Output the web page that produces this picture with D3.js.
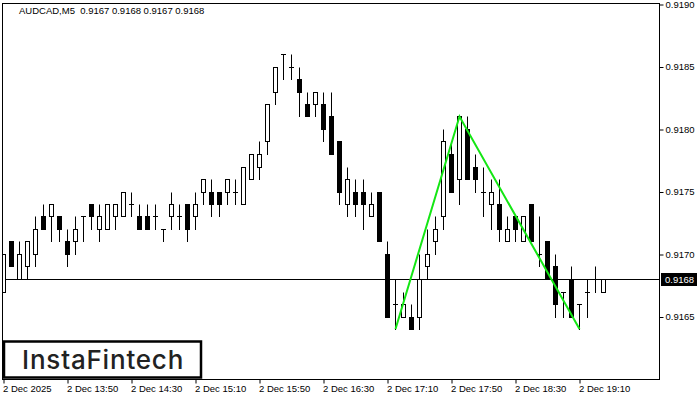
<!DOCTYPE html>
<html>
<head>
<meta charset="utf-8">
<script src="https://cdn.jsdelivr.net/npm/d3@7"></script>
<style>
  body { margin: 0; background: #fff; }
  text { font-family: "Liberation Sans", Arial, sans-serif; }
</style>
</head>
<body>
<div id="chart"></div>
<script>
// AUDCAD M5 candles (0.91xx)
const opens  = [0.9167,0.9171,0.9168,0.9169,0.9170,0.9173,0.9173,0.9173,0.9171,0.9171,0.9173,0.9174,0.9172,0.9172,0.9173,0.9173,0.9174,0.9173,0.9173,0.9173,
                0.9172,0.9173,0.9173,0.9174,0.9173,0.9175,0.9175,0.9175,0.9175,0.9175,0.9174,0.9176,0.9177,0.9179,0.9183,0.9186,0.9185,0.9184,0.9182,0.9182,
                0.9182,0.9181,0.9179,0.9174,0.9175,0.9175,0.9173,0.9175,0.9170,0.9166,0.9165,0.9165,0.9165,0.9169,0.9171,0.9173,0.9178,0.9176,0.9180,0.9177,
                0.9175,0.9174,0.9174,0.9171,0.9173,0.9171,0.9174,0.9170,0.9171,0.9169,0.9167,0.9168,0.9166,0.9167,0.9168,0.9167];
const highs  = [0.9170,0.9171,0.9171,0.9171,0.9173,0.9174,0.9174,0.9173,0.9172,0.9173,0.9173,0.9174,0.9174,0.9174,0.9174,0.9175,0.9175,0.9174,0.9174,0.9174,
                0.9172,0.9175,0.9174,0.9174,0.9175,0.9176,0.9176,0.9175,0.9176,0.9176,0.9177,0.9178,0.9179,0.9182,0.9185,0.9186,0.9186,0.9185,0.9183,0.9183,
                0.9183,0.9183,0.9179,0.9177,0.9176,0.9176,0.9175,0.9175,0.9171,0.9168,0.9167,0.9166,0.9170,0.9172,0.9173,0.9180,0.9179,0.9181,0.9181,0.9178,
                0.9177,0.9176,0.9176,0.9173,0.9173,0.9173,0.9174,0.9173,0.9171,0.9170,0.9167,0.9169,0.9166,0.9168,0.9169,0.9168];
const lows   = [0.9167,0.9169,0.9168,0.9168,0.9169,0.9172,0.9171,0.9171,0.9169,0.9170,0.9171,0.9172,0.9171,0.9172,0.9172,0.9173,0.9173,0.9172,0.9172,0.9172,
                0.9171,0.9172,0.9172,0.9171,0.9172,0.9174,0.9173,0.9173,0.9174,0.9174,0.9174,0.9176,0.9176,0.9178,0.9182,0.9184,0.9184,0.9181,0.9181,0.9181,
                0.9179,0.9178,0.9174,0.9173,0.9173,0.9172,0.9173,0.9171,0.9165,0.9164,0.9165,0.9164,0.9164,0.9168,0.9170,0.9172,0.9175,0.9174,0.9176,0.9175,
                0.9173,0.9172,0.9171,0.9171,0.9171,0.9171,0.9171,0.9169,0.9168,0.9165,0.9165,0.9165,0.9164,0.9165,0.9167,0.9167];
const closes = [0.9170,0.9169,0.9170,0.9171,0.9172,0.9172,0.9174,0.9172,0.9170,0.9172,0.9173,0.9173,0.9173,0.9174,0.9174,0.9175,0.9174,0.9172,0.9172,0.9173,
                0.9172,0.9174,0.9173,0.9172,0.9174,0.9176,0.9174,0.9174,0.9176,0.9175,0.9177,0.9178,0.9178,0.9182,0.9185,0.9186,0.9185,0.9183,0.9181,0.9183,
                0.9180,0.9178,0.9175,0.9176,0.9174,0.9174,0.9174,0.9171,0.9165,0.9166,0.9166,0.9164,0.9168,0.9170,0.9172,0.9179,0.9175,0.9181,0.9176,0.9176,
                0.9175,0.9175,0.9172,0.9172,0.9172,0.9173,0.9171,0.9170,0.9168,0.9166,0.9167,0.9165,0.9166,0.9167,0.9168,0.9168];

// time axis: one label every 8 bars
const tickIndex  = [0, 8, 16, 24, 32, 40, 48, 56, 64, 72];
const tickLabels = ["2 Dec 2025", "2 Dec 13:50", "2 Dec 14:30", "2 Dec 15:10", "2 Dec 15:50",
                    "2 Dec 16:30", "2 Dec 17:10", "2 Dec 17:50", "2 Dec 18:30", "2 Dec 19:10"];
const priceTicks = [0.9165, 0.9170, 0.9175, 0.9180, 0.9185, 0.9190];

// double top pattern (green)
const patternIndex = [49, 57, 72];
const patternPrice = [0.9164, 0.9181, 0.9164];

const lastPrice = 0.9168;
const title = "AUDCAD,M5  0.9167 0.9168 0.9167 0.9168";

const width = 700, height = 400;
const frame = {left: 2.5, top: 3.5, right: 659.5, bottom: 379.5};

const svg = d3.select('#chart').append('svg')
  .attr('width', width)
  .attr('height', height);

const x = d3.scaleLinear().domain([0, 75]).range([3.5, 603.5]);
const y = d3.scaleLinear().domain([0.9165, 0.9190]).range([316.5, 4]);
const py = v => Math.round(y(v)) + 0.5;

svg.append('clipPath').attr('id', 'plot')
  .append('rect')
  .attr('x', frame.left + 0.5).attr('y', frame.top + 0.5)
  .attr('width', frame.right - frame.left - 1).attr('height', frame.bottom - frame.top - 1);

const plot = svg.append('g').attr('clip-path', 'url(#plot)');

const bars = d3.range(opens.length).map(i => ({
  i: i, o: opens[i], h: highs[i], l: lows[i], c: closes[i]
}));

// current price line
plot.append('line')
  .attr('x1', frame.left).attr('x2', frame.right)
  .attr('y1', py(lastPrice)).attr('y2', py(lastPrice))
  .attr('stroke', '#000');

const candle = plot.selectAll('g.candle')
  .data(bars)
  .join('g')
  .attr('class', 'candle');

// wicks
candle.append('line')
  .attr('x1', d => x(d.i)).attr('x2', d => x(d.i))
  .attr('y1', d => py(d.h)).attr('y2', d => py(d.l) + 0.5)
  .attr('stroke', '#000');

// bodies
candle.filter(d => d.o !== d.c).append('rect')
  .attr('x', d => x(d.i) - 2)
  .attr('width', 4)
  .attr('y', d => py(Math.max(d.o, d.c)))
  .attr('height', d => py(Math.min(d.o, d.c)) - py(Math.max(d.o, d.c)))
  .attr('fill', d => d.c > d.o ? '#fff' : '#000')
  .attr('stroke', '#000');

// doji
candle.filter(d => d.o === d.c).append('line')
  .attr('x1', d => x(d.i) - 2.5).attr('x2', d => x(d.i) + 2.5)
  .attr('y1', d => py(d.o)).attr('y2', d => py(d.o))
  .attr('stroke', '#000');

// pattern lines
plot.append('path')
  .datum(patternIndex.map((d, k) => [x(d), y(patternPrice[k])]))
  .attr('d', d3.line())
  .attr('fill', 'none')
  .attr('stroke', '#14e614')
  .attr('stroke-width', 2);

// frame
svg.append('rect')
  .attr('x', frame.left).attr('y', frame.top)
  .attr('width', frame.right - frame.left).attr('height', frame.bottom - frame.top)
  .attr('fill', 'none')
  .attr('stroke', '#000');

// price axis
const yAxis = svg.append('g')
  .attr('transform', `translate(${frame.right},0)`)
  .call(d3.axisRight(y).tickValues(priceTicks).tickSize(4).tickPadding(2)
    .tickFormat(d3.format('.4f')));
yAxis.select('.domain').remove();
yAxis.selectAll('.tick line').attr('transform', 'translate(0,0.5)');
yAxis.selectAll('text')
  .style('font-family', '"Liberation Sans", Arial, sans-serif')
  .style('font-size', '9.5px')
  .attr('fill', '#000');

// time axis
const xAxis = svg.append('g')
  .attr('transform', `translate(0,${frame.bottom})`)
  .call(d3.axisBottom(x).tickValues(tickIndex).tickSize(4).tickPadding(2)
    .tickFormat((d, k) => tickLabels[k]));
xAxis.select('.domain').remove();
xAxis.selectAll('text')
  .attr('text-anchor', 'start')
  .attr('dx', -1)
  .style('font-family', '"Liberation Sans", Arial, sans-serif')
  .style('font-size', '9.5px')
  .attr('fill', '#000');

// last price label
svg.append('rect')
  .attr('x', 661).attr('y', 273)
  .attr('width', 36).attr('height', 13)
  .attr('fill', '#000');
svg.append('text')
  .attr('x', 665).attr('y', py(lastPrice) + 3.5)
  .attr('fill', '#fff')
  .style('font-size', '9.5px')
  .text(d3.format('.4f')(lastPrice));

// title
svg.append('text')
  .attr('x', 19).attr('y', 14)
  .attr('fill', '#000')
  .style('font-size', '9.5px')
  .style('white-space', 'pre')
  .text(title);

// logo
svg.append('rect')
  .attr('x', 4).attr('y', 341.5)
  .attr('width', 197).attr('height', 36)
  .attr('fill', '#fff')
  .attr('stroke', '#000')
  .attr('stroke-width', 2.5);
svg.append('text')
  .attr('x', 22).attr('y', 369)
  .attr('fill', '#222')
  .style('font-family', 'Inter, "Noto Sans", sans-serif')
  .style('font-weight', 500)
  .style('font-size', '26px')
  .style('letter-spacing', '0.8px')
  .text('InstaFintech');
</script>
</body>
</html>
